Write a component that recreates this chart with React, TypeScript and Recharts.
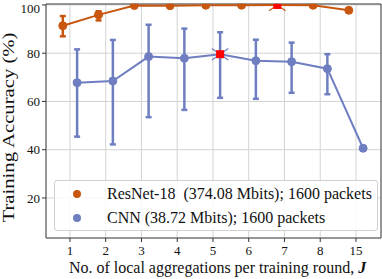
import React from "react";
import { ComposedChart, Line, XAxis, YAxis, CartesianGrid, ErrorBar, ReferenceArea } from "recharts";

const tickLabels = ["1", "2", "3", "4", "5", "6", "7", "8", "15"];
const resnetMean = [91.4, 95.9, 99.8, 99.7, 99.9, 99.9, 100.0, 99.9, 97.8];
const resnetLow = [87.0, 93.6, 99.5, 99.4, 99.6, 99.6, 99.7, 99.6, 97.5];
const resnetHigh = [95.4, 97.4, 100.0, 100.0, 100.0, 100.0, 100.0, 100.0, 98.1];
const cnnMean = [67.8, 68.5, 78.6, 77.9, 79.6, 76.9, 76.5, 73.6, 40.6];
const cnnLow = [45.4, 42.2, 53.5, 56.5, 61.5, 61.1, 63.6, 63.0, 40.0];
const cnnHigh = [81.6, 85.5, 91.8, 90.2, 88.7, 85.6, 84.4, 79.6, 41.3];
const resnetBest = 6;
const cnnBest = 4;

const ORANGE = "#c8560f";
const BLUE = "#6e7ec1";
const FONT = "Liberation Serif, Times New Roman, serif";

const dodge = 0.2;
const build = (mean: number[], low: number[], high: number[], shift: number) =>
  mean.map((m, i) => ({ x: i + shift, y: m, err: [m - low[i], high[i] - m] }));

const resnetData = build(resnetMean, resnetLow, resnetHigh, -dodge);
const cnnData = build(cnnMean, cnnLow, cnnHigh, dodge);

function makeDot(color: string, best: number) {
  return (props: any) => {
    const { cx, cy, index } = props;
    if (cx == null || cy == null) return <g key={index} />;
    if (index !== best) {
      return <circle key={index} cx={cx} cy={cy} r={4} fill={color} stroke={color} />;
    }
    const arms = [35, 145, 215, 325].map((a) => {
      const r = (a * Math.PI) / 180;
      return (
        <line key={a} x1={cx} y1={cy} x2={cx + 10 * Math.cos(r)} y2={cy - 10 * Math.sin(r)} stroke={color} strokeWidth={1.2} />
      );
    });
    return (
      <g key={index}>
        {arms}
        <rect x={cx - 4} y={cy - 4} width={8} height={8} fill="#ff0000" />
      </g>
    );
  };
}

const legendItems = [
  { color: ORANGE, text: "ResNet-18  (374.08 Mbits); 1600 packets" },
  { color: BLUE, text: "CNN (38.72 Mbits); 1600 packets" },
];

function LegendBox() {
  return (
    <div
      style={{
        position: "absolute",
        left: 54,
        top: 180,
        width: 324,
        height: 51,
        border: "1px solid #d0d0d0",
        borderRadius: 3,
        background: "rgba(255,255,255,0.85)",
        fontFamily: FONT,
        fontSize: 16,
        color: "#111",
        boxSizing: "border-box",
        paddingTop: 1,
      }}
    >
      {legendItems.map((it) => (
        <div key={it.text} style={{ display: "flex", alignItems: "center", height: 24 }}>
          <span style={{ display: "inline-block", width: 8, height: 8, borderRadius: 4, background: it.color, marginLeft: 18, marginRight: 26, flex: "none" }} />
          <span style={{ whiteSpace: "pre", lineHeight: "24px" }}>{it.text}</span>
        </div>
      ))}
    </div>
  );
}

function XLabel(props: any) {
  const { viewBox } = props;
  return (
    <text x={217.5} y={viewBox.y + 35} textAnchor="middle" fontFamily={FONT} fontSize={16} fill="#111">
      No. of local aggregations per training round, <tspan fontStyle="italic" fontWeight="bold">J</tspan>
    </text>
  );
}

function YLabel() {
  const cy = 127.5;
  return (
    <text
      x={14}
      y={cy}
      transform={`rotate(-90, 14, ${cy})`}
      textAnchor="middle"
      fontFamily={FONT}
      fontSize={16}
      textLength={190}
      lengthAdjust="spacingAndGlyphs"
      fill="#111"
    >
      Training Accuracy (%)
    </text>
  );
}

export default function App() {
  return (
    <div style={{ position: "absolute", left: 0, top: 0, width: 382, height: 279, background: "#fff" }}>
      <ComposedChart width={382} height={279} margin={{ top: 4, right: 1, bottom: 0, left: 0 }}>
        <CartesianGrid stroke="#d4d4d4" strokeWidth={1} />
        <XAxis
          type="number"
          dataKey="x"
          domain={[-0.67, 8.7]}
          allowDataOverflow
          ticks={[0, 1, 2, 3, 4, 5, 6, 7, 8]}
          tickFormatter={(v: number) => tickLabels[v]}
          tick={{ fontFamily: FONT, fontSize: 13, fill: "#111" }}
          tickLine={{ stroke: "#333" }}
          tickSize={4}
          tickMargin={4}
          axisLine={false}
          height={41}
          label={<XLabel />}
        />
        <YAxis
          type="number"
          domain={[3.4, 100.4]}
          allowDataOverflow
          ticks={[20, 40, 60, 80, 100]}
          tick={{ fontFamily: FONT, fontSize: 13, fill: "#111" }}
          tickLine={{ stroke: "#333" }}
          tickSize={4}
          axisLine={false}
          width={46}
          label={<YLabel />}
        />
        <ReferenceArea x1={-0.67} x2={8.7} y1={3.4} y2={100.4} fill="none" stroke="#444" strokeWidth={1} ifOverflow="visible" />
        <Line
          data={resnetData}
          dataKey="y"
          stroke={ORANGE}
          strokeWidth={2}
          dot={makeDot(ORANGE, resnetBest)}
          isAnimationActive={false}
        >
          <ErrorBar dataKey="err" direction="y" width={3} stroke={ORANGE} strokeWidth={2.5} />
        </Line>
        <Line
          data={cnnData}
          dataKey="y"
          stroke={BLUE}
          strokeWidth={2}
          dot={makeDot(BLUE, cnnBest)}
          isAnimationActive={false}
        >
          <ErrorBar dataKey="err" direction="y" width={3} stroke={BLUE} strokeWidth={2.5} />
        </Line>
      </ComposedChart>
      <LegendBox />
    </div>
  );
}
